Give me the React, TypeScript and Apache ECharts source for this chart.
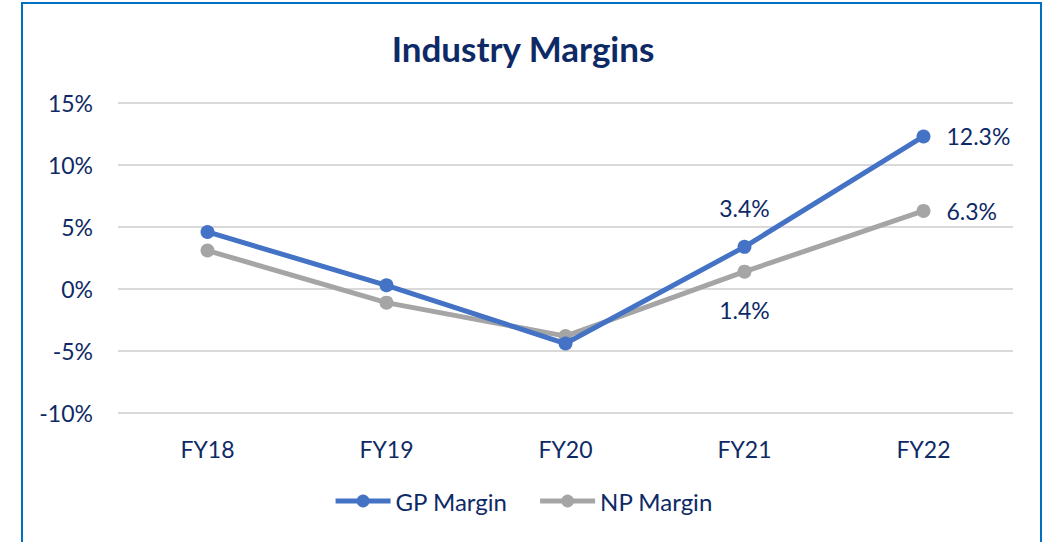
import React, { useEffect, useRef } from "react";
import * as echarts from "echarts";

const categories = ["FY18", "FY19", "FY20", "FY21", "FY22"];
const gpMargin = [4.6, 0.3, -4.4, 3.4, 12.3];
const npMargin = [3.1, -1.1, -3.8, 1.4, 6.3];
const labelledIdx = [3, 4];

const TEXT = "#0E2A66";
const FONT = "Lato, 'Noto Sans', sans-serif";
const FS = 23;

function buildData(vals: number[], pos: string[]) {
  return vals.map((v, i) => {
    const k = labelledIdx.indexOf(i);
    if (k < 0) return { value: v };
    return {
      value: v,
      label: {
        show: true,
        position: pos[k],
        distance: pos[k] === "right" ? 16 : 20,
        formatter: (p: any) => p.value.toFixed(1) + "%",
        color: TEXT,
        fontSize: FS,
        fontFamily: FONT,
      },
    };
  });
}

export default function App() {
  const ref = useRef<HTMLDivElement>(null);
  useEffect(() => {
    const chart = echarts.init(ref.current!, null, { renderer: "svg" });
    chart.setOption({
      animation: false,
      backgroundColor: "#ffffff",
      title: {
        text: "Industry Margins",
        left: "center",
        top: 25,
        textStyle: { color: TEXT, fontSize: 35, fontWeight: "bold", fontFamily: FONT },
      },
      graphic: [
        {
          type: "rect",
          shape: { x: 22, y: 3, width: 1019, height: 560 },
          style: { fill: "none", stroke: "#0070C0", lineWidth: 2 },
          silent: true,
        },
      ],
      legend: {
        bottom: 24,
        left: "center",
        itemWidth: 55,
        itemHeight: 16,
        itemGap: 30,
        lineStyle: { width: 5 },
        textStyle: { color: TEXT, fontSize: 24, fontFamily: FONT },
        data: ["GP Margin", "NP Margin"],
      },
      grid: { left: 118, right: 33, top: 103, bottom: 129 },
      xAxis: {
        type: "category",
        data: categories,
        boundaryGap: true,
        axisLine: { show: false },
        axisTick: { show: false },
        axisLabel: { color: TEXT, fontSize: FS, fontFamily: FONT, margin: 24 },
      },
      yAxis: {
        type: "value",
        min: -10,
        max: 15,
        interval: 5,
        axisLine: { show: false },
        axisTick: { show: false },
        axisLabel: { color: TEXT, fontSize: FS, fontFamily: FONT, margin: 25, formatter: "{value}%" },
        splitLine: { lineStyle: { color: "#D9D9D9", width: 2 } },
      },
      series: [
        {
          name: "GP Margin",
          type: "line",
          data: buildData(gpMargin, ["top", "right"]),
          symbol: "circle",
          symbolSize: 14,
          lineStyle: { color: "#4472C4", width: 5 },
          itemStyle: { color: "#4472C4" },
          z: 3,
        },
        {
          name: "NP Margin",
          type: "line",
          data: buildData(npMargin, ["bottom", "right"]),
          symbol: "circle",
          symbolSize: 14,
          lineStyle: { color: "#A5A5A5", width: 5 },
          itemStyle: { color: "#A5A5A5" },
          z: 2,
        },
      ],
    });
    return () => chart.dispose();
  }, []);
  return (
    <div style={{ position: "fixed", left: 0, top: 0, width: 1046, height: 542, background: "#fff" }}>
      <div ref={ref} style={{ width: 1046, height: 542 }} />
    </div>
  );
}
